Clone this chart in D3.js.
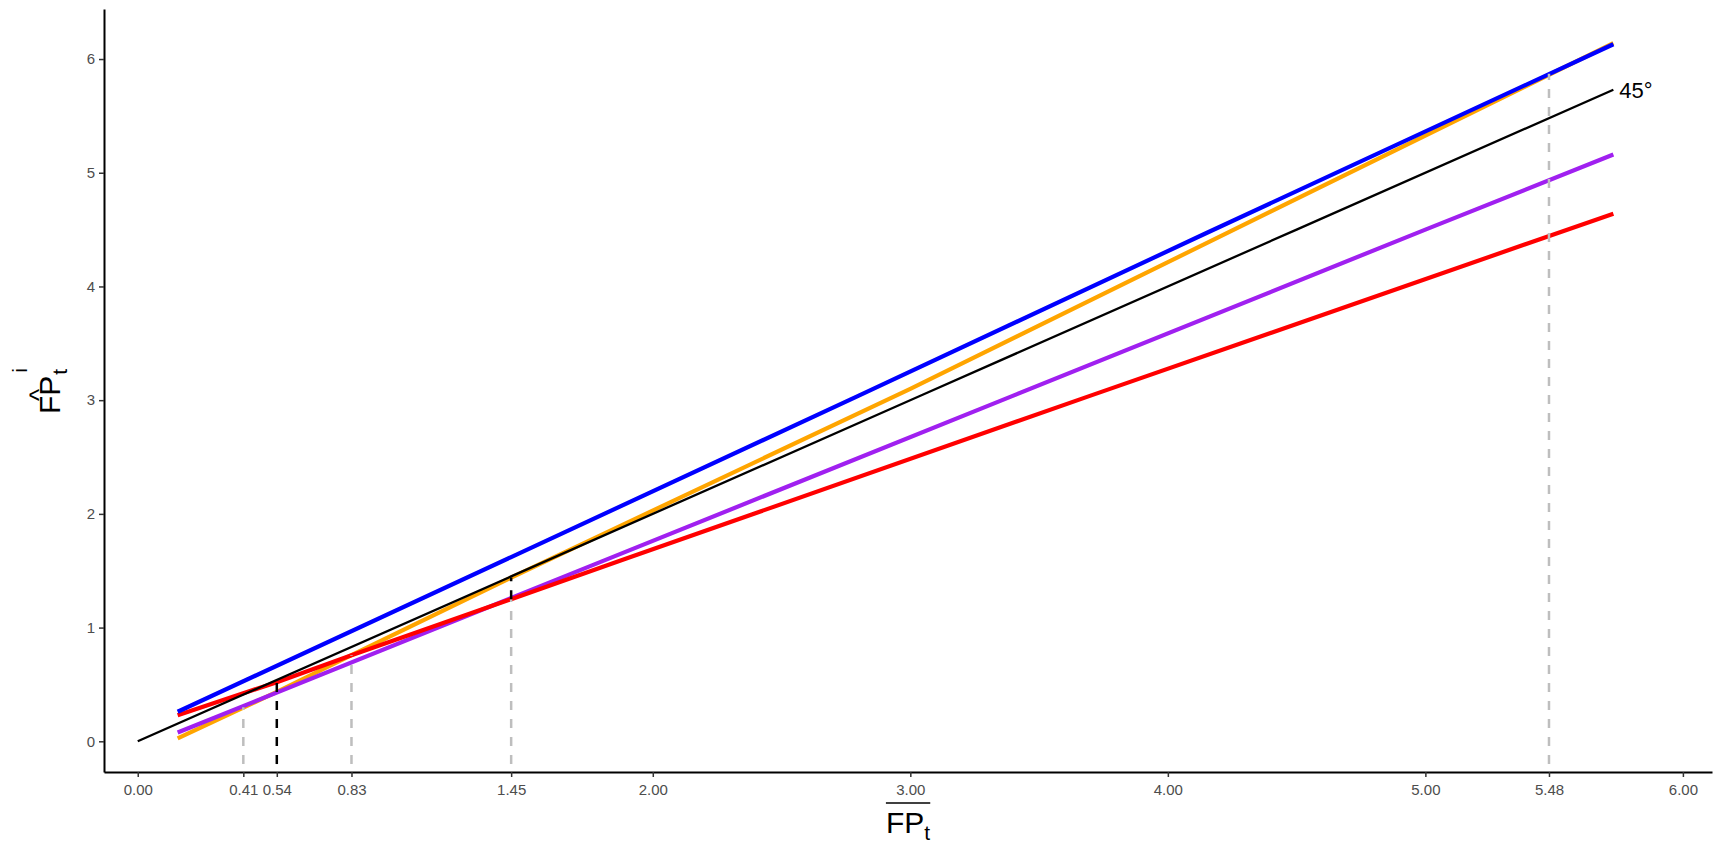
<!DOCTYPE html>
<html>
<head>
<meta charset="utf-8">
<script src="https://cdn.jsdelivr.net/npm/d3@7"></script>
<style>
  body { margin: 0; background: #fff; }
  svg { display: block; font-family: "Liberation Sans", Arial, sans-serif; }
  .axis .domain { stroke: #000; stroke-width: 2; }
  .axis .tick line { stroke: #333; stroke-width: 1.5; }
  .axis .tick text { fill: #4d4d4d; font-size: 15px; font-family: "Liberation Sans", Arial, sans-serif; }
</style>
</head>
<body>
<div class="g-chart"></div>
<script>
//Tick values
var xTicks = [0, 0.41, 0.54, 0.83, 1.45, 2, 3, 4, 5, 5.48, 6];
var yTicks = [0, 1, 2, 3, 4, 5, 6];

//Series as [x, y]
var orangeLine = [[0.155, 0.025], [0.54, 0.435], [0.83, 0.757], [1.45, 1.44], [3.0, 3.1], [5.73, 6.14]];
var purpleLine = [[0.155, 0.077], [1.8, 1.58], [3.4, 3.04], [5.0, 4.5], [5.73, 5.16]];
var redLine = [[0.155, 0.23], [0.54, 0.52], [0.83, 0.757], [1.45, 1.25], [1.9, 1.61], [3.7, 3.04], [5.73, 4.64]];
var blueLine = [[0.155, 0.26], [1.45, 1.62], [2.8, 3.04], [4.15, 4.47], [5.73, 6.13]];
var blackLine = [[0, 0], [1.45, 1.45], [3.05, 3.05], [4.5, 4.5], [5.73, 5.73]];

//Dashed drop lines [x, yFrom, yTo]
var grayDrops = [[0.41, -0.2, 0.30], [0.83, -0.2, 0.757], [1.45, -0.2, 1.25], [5.48, -0.2, 5.87]];
var blackDrops = [[0.54, -0.2, 0.52], [1.45, 1.25, 1.44]];

//Margin conventions
var width = 1717, height = 844;
var margin = {top: 9, right: 5, bottom: 72, left: 104};

var svg = d3.select(".g-chart").append("svg")
  .attr("width", width)
  .attr("height", height);

//Scales
var xScale = d3.scaleLinear()
  .domain([-0.131, 6.113])
  .range([margin.left, width - margin.right]);

var yScale = d3.scaleLinear()
  .domain([-0.27, 6.44])
  .range([height - margin.bottom, margin.top]);

//Axes
var xAxis = d3.axisBottom(xScale)
  .tickValues(xTicks)
  .tickFormat(d3.format(".2f"))
  .tickSize(5)
  .tickSizeOuter(0)
  .tickPadding(7);

var yAxis = d3.axisLeft(yScale)
  .tickValues(yTicks)
  .tickFormat(d3.format("d"))
  .tickSize(5)
  .tickSizeOuter(0)
  .tickPadding(4);

svg.append("g")
  .attr("class", "x axis")
  .attr("transform", "translate(0," + (height - margin.bottom) + ")")
  .call(xAxis);

svg.append("g")
  .attr("class", "y axis")
  .attr("transform", "translate(" + margin.left + ",0)")
  .call(yAxis);

//Lines
var line = d3.line()
  .x(function(d) { return xScale(d[0]); })
  .y(function(d) { return yScale(d[1]); });

var series = [
  {data: orangeLine, color: "#ffa500", w: 4.2},
  {data: purpleLine, color: "#a020f0", w: 4.2},
  {data: redLine, color: "#ff0000", w: 4.2},
  {data: blueLine, color: "#0000ff", w: 4.2},
  {data: blackLine, color: "#000000", w: 2.3}
];

svg.selectAll(".g-line")
  .data(series)
  .enter()
  .append("path")
  .attr("class", "g-line")
  .attr("d", function(d) { return line(d.data); })
  .attr("fill", "none")
  .attr("stroke", function(d) { return d.color; })
  .attr("stroke-width", function(d) { return d.w; })
  .attr("stroke-linejoin", "round");

//Drop lines
function drops(data, color) {
  svg.selectAll(null)
    .data(data)
    .enter()
    .append("line")
    .attr("x1", function(d) { return xScale(d[0]); })
    .attr("x2", function(d) { return xScale(d[0]); })
    .attr("y1", function(d) { return yScale(d[1]); })
    .attr("y2", function(d) { return yScale(d[2]); })
    .attr("stroke", color)
    .attr("stroke-width", 2.5)
    .attr("stroke-dasharray", "9,9");
}
drops(grayDrops, "#bebebe");
drops(blackDrops, "#000000");

//45 degree label
var last = blackLine[blackLine.length - 1];
svg.append("text")
  .attr("x", xScale(last[0]) + 6)
  .attr("y", yScale(last[1]))
  .attr("dy", "0.36em")
  .style("font-size", "22px")
  .style("fill", "#000")
  .text("45°");

//X axis title: overline FP with subscript t
var xt = svg.append("text")
  .attr("x", (margin.left + width - margin.right) / 2)
  .attr("y", 833)
  .attr("text-anchor", "middle")
  .style("font-size", "30px")
  .style("fill", "#000");
xt.append("tspan").text("FP");
xt.append("tspan").attr("dy", 7).style("font-size", "21px").text("t");

var bb = xt.node().getBBox();
svg.append("line")
  .attr("x1", bb.x)
  .attr("x2", bb.x + bb.width)
  .attr("y1", 803)
  .attr("y2", 803)
  .attr("stroke", "#000")
  .attr("stroke-width", 1.5);

//Y axis title: hat FP with subscript t and superscript i
var yt = svg.append("g")
  .attr("transform", "translate(60," + 396 + ") rotate(-90)");

var fp = yt.append("text")
  .attr("x", -18)
  .attr("y", 0)
  .style("font-size", "30px")
  .style("fill", "#000")
  .text("FP");
var fpW = fp.node().getComputedTextLength();

yt.append("text")
  .attr("x", -18 + fpW / 2)
  .attr("y", -12)
  .attr("text-anchor", "middle")
  .style("font-size", "26px")
  .style("fill", "#000")
  .text("^");

yt.append("text")
  .attr("x", -18 + fpW + 1)
  .attr("y", 7)
  .style("font-size", "21px")
  .style("fill", "#000")
  .text("t");

yt.append("text")
  .attr("x", -18 + fpW + 3)
  .attr("y", -33)
  .style("font-size", "21px")
  .style("fill", "#000")
  .text("i");
</script>
</body>
</html>
